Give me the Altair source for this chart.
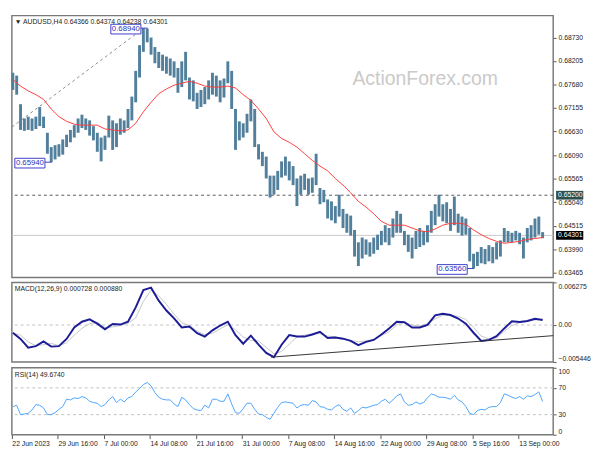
import altair as alt
import pandas as pd

W = 558
H_PRICE, H_MACD, H_RSI = 270, 82, 69
FONT = "Liberation Sans"

# ---------------- data ----------------
x_labels = ["22 Jun 2023", "29 Jun 16:00", "7 Jul 00:00", "14 Jul 08:00", "21 Jul 16:00",
            "31 Jul 00:00", "7 Aug 08:00", "14 Aug 16:00", "22 Aug 00:00", "29 Aug 08:00",
            "5 Sep 16:00", "13 Sep 00:00"]
x_label_pos = [-0.25, 11.75, 23.75, 35.75, 47.75, 59.75, 71.75, 83.75, 95.75, 107.75, 119.75, 131.75]

bar_high = [
    0.67941, 0.67877, 0.67238, 0.66918, 0.66960, 0.66918, 0.66960, 0.67174, 0.66960, 0.66598,
    0.66278, 0.66321, 0.66342, 0.66449, 0.66555, 0.66662, 0.66769, 0.66918, 0.67003, 0.66918,
    0.66875, 0.66747, 0.66598, 0.66491, 0.66534, 0.66982, 0.66875, 0.66811, 0.66918, 0.66875,
    0.67131, 0.67408, 0.67984, 0.68559, 0.68940, 0.68930, 0.68730, 0.68517, 0.68410, 0.68346,
    0.68304, 0.68261, 0.68197, 0.68048, 0.68197, 0.68410, 0.67835, 0.67771, 0.67493, 0.67557,
    0.67621, 0.67771, 0.67941, 0.67877, 0.67771, 0.67813, 0.68197, 0.67984, 0.67131, 0.66854,
    0.66811, 0.67024, 0.67344, 0.67131, 0.66342, 0.66172, 0.66065, 0.65639, 0.65639, 0.65745,
    0.65958, 0.66065, 0.65958, 0.65852, 0.65575, 0.65639, 0.65681, 0.65575, 0.65596, 0.66129,
    0.65362, 0.65319, 0.65106, 0.65063, 0.64957, 0.65212, 0.64893, 0.64786, 0.64744, 0.64423,
    0.64146, 0.64253, 0.64211, 0.64146, 0.64253, 0.64317, 0.64402, 0.64530, 0.64466, 0.64679,
    0.64850, 0.64786, 0.64402, 0.64317, 0.64253, 0.64402, 0.64466, 0.64402, 0.64530, 0.64850,
    0.64999, 0.65212, 0.64999, 0.65042, 0.64893, 0.65170, 0.64786, 0.64722, 0.64679, 0.64466,
    0.63890, 0.63933, 0.64040, 0.63997, 0.64082, 0.64040, 0.64146, 0.64189, 0.64466, 0.64402,
    0.64360, 0.64402, 0.64360, 0.64253, 0.64466, 0.64530, 0.64679, 0.64722, 0.64374]
bar_low = [
    0.67557, 0.67451, 0.66662, 0.66641, 0.66662, 0.66641, 0.66683, 0.66747, 0.66705, 0.66129,
    0.65940, 0.66001, 0.66065, 0.66108, 0.66278, 0.66385, 0.66491, 0.66598, 0.66705, 0.66662,
    0.66534, 0.66428, 0.66172, 0.65958, 0.66215, 0.66491, 0.66215, 0.66278, 0.66555, 0.66598,
    0.66705, 0.66875, 0.67280, 0.67835, 0.68410, 0.68623, 0.68346, 0.68154, 0.68048, 0.67984,
    0.67920, 0.67877, 0.67835, 0.67493, 0.67621, 0.67771, 0.67344, 0.67302, 0.67131, 0.67174,
    0.67238, 0.67344, 0.67451, 0.67408, 0.67280, 0.67387, 0.67707, 0.67131, 0.66215, 0.66428,
    0.66491, 0.66598, 0.66854, 0.66278, 0.66001, 0.65852, 0.65575, 0.65148, 0.65212, 0.65319,
    0.65596, 0.65639, 0.65532, 0.65426, 0.64957, 0.65212, 0.65319, 0.65212, 0.65255, 0.65426,
    0.64999, 0.65042, 0.64679, 0.64637, 0.64573, 0.64722, 0.64466, 0.64360, 0.64296, 0.63827,
    0.63614, 0.63784, 0.63869, 0.63827, 0.63890, 0.63976, 0.64082, 0.64146, 0.64082, 0.64253,
    0.64360, 0.64360, 0.64082, 0.63933, 0.63784, 0.63997, 0.64040, 0.64082, 0.64146, 0.64360,
    0.64530, 0.64722, 0.64615, 0.64573, 0.64402, 0.64530, 0.64360, 0.64296, 0.64317, 0.63720,
    0.63560, 0.63614, 0.63677, 0.63656, 0.63720, 0.63677, 0.63763, 0.63827, 0.64146, 0.64146,
    0.64146, 0.64189, 0.64104, 0.63784, 0.64146, 0.64189, 0.64253, 0.64317, 0.64238]

ma_values = [
    0.67792, 0.67643, 0.67536, 0.67451, 0.67344, 0.67131, 0.66960, 0.66854, 0.66790, 0.66769,
    0.66769, 0.66769, 0.66683, 0.66662, 0.66641, 0.66662, 0.66811, 0.67067, 0.67280, 0.67472,
    0.67579, 0.67664, 0.67707, 0.67749, 0.67707, 0.67643, 0.67621, 0.67621, 0.67643, 0.67600,
    0.67451, 0.67323, 0.67131, 0.66918, 0.66619, 0.66470, 0.66385, 0.66278, 0.66129, 0.65980,
    0.65852, 0.65745, 0.65575, 0.65426, 0.65255, 0.65063, 0.64935, 0.64786, 0.64615, 0.64530,
    0.64530, 0.64530, 0.64466, 0.64402, 0.64381, 0.64445, 0.64530, 0.64573, 0.64573, 0.64551,
    0.64423, 0.64317, 0.64232, 0.64168, 0.64125, 0.64146, 0.64168, 0.64211, 0.64232, 0.64253]

macd_main = [
    -0.001139, -0.002057, -0.003328, -0.003116, -0.002410, -0.003187, -0.003116, -0.002057, -0.000362, 0.000485,
    0.000838, 0.000203, -0.000645, 0.000160, 0.000061, 0.000485, 0.002603, 0.005145, 0.005498, 0.003592,
    0.002137, 0.000979, -0.000362, -0.000221, -0.001210, -0.001704, -0.000786, -0.000080, 0.000485, -0.001492,
    -0.002763, -0.001563, -0.002904, -0.004105, -0.004740, -0.002904, -0.001492, -0.001704, -0.001704, -0.001393,
    -0.000998, -0.001916, -0.001845, -0.002015, -0.002339, -0.002975, -0.002481, -0.002198, -0.001393, -0.000504,
    0.000485, 0.000414, -0.000362, -0.000362, 0.000019, 0.001431, 0.001643, 0.001474, 0.000951, 0.000203,
    -0.001139, -0.002339, -0.002198, -0.001633, -0.000504, 0.000556, 0.000443, 0.000598, 0.000909, 0.000728]
macd_signal = [
    -0.001210, -0.001492, -0.002481, -0.003046, -0.002904, -0.002692, -0.003046, -0.002622, -0.001492, -0.000504,
    0.000203, 0.000414, -0.000362, -0.000292, -0.000080, 0.000273, 0.001050, 0.003451, 0.005145, 0.004298,
    0.003027, 0.001615, 0.000344, -0.000080, -0.000927, -0.001421, -0.001210, -0.000574, 0.000019, -0.000715,
    -0.001775, -0.002269, -0.002339, -0.003286, -0.004246, -0.003893, -0.002834, -0.001775, -0.001492, -0.001280,
    -0.001280, -0.001633, -0.001746, -0.001986, -0.002269, -0.002481, -0.002339, -0.002128, -0.001563, -0.000998,
    0.000019, 0.000414, -0.000009, -0.000151, 0.000203, 0.000909, 0.001431, 0.001431, 0.001262, 0.000838,
    -0.000362, -0.001633, -0.002057, -0.001873, -0.000927, -0.000080, 0.000344, 0.000527, 0.000725, 0.000880]

rsi_values = [
    42, 44, 30, 31, 32, 37, 45, 44, 40, 30,
    30, 33, 38, 42, 53, 52, 55, 54, 57, 55,
    50, 48, 47, 42, 45, 52, 57, 48, 53, 49,
    55, 57, 64, 69, 75, 78, 73, 63, 56, 53,
    52, 52, 46, 42, 56, 52, 45, 39, 37, 36,
    44, 40, 53, 53, 50, 50, 61, 46, 33, 32,
    39, 47, 47, 38, 31, 30, 26, 23, 32, 41,
    48, 49, 48, 47, 40, 44, 45, 44, 51, 49,
    42, 41, 38, 37, 42, 45, 38, 35, 40, 32,
    36, 41, 40, 42, 44, 45, 50, 53, 47, 52,
    58, 61, 49, 44, 45, 49, 46, 48, 55, 61,
    59, 56, 56, 55, 53, 59, 52, 49, 42, 32,
    30, 36, 38, 37, 41, 42, 42, 48, 61, 59,
    56, 54, 57, 53, 58, 57, 60, 64, 49.674]

price_ticks = [0.68730, 0.68205, 0.67680, 0.67155, 0.66630, 0.66090, 0.65565,
               0.65040, 0.64515, 0.63990, 0.63465]
macd_ticks = [0.006275, 0.0, -0.005446]
rsi_ticks = [0, 30, 70, 100]

peak_labels = ["0.68940", "0.65940", "0.63560"]
peak_prices = [0.68940, 0.65940, 0.63560]
peak_idx = [35, 10, 120]

level_dashed = 0.65200
level_last = 0.64301
trend_idx = [-0.25, 32.5]
trend_price = [0.66726, 0.68837]
macd_trend_idx = [67.25, 140.75]
macd_trend_val = [-0.00474, -0.00157]

title_text = "\u25bc AUDUSD,H4  0.64366 0.64374 0.64238 0.64301"
macd_title = "MACD(12,26,9) 0.000728 0.000880"
rsi_title = "RSI(14) 49.6740"
watermark = "ActionForex.com"

# ---------------- frames ----------------
idx_all = list(range(len(bar_high)))
idx_half = list(range(0, len(bar_high), 2))
bars_df = pd.DataFrame({"idx": idx_all, "high": bar_high, "low": bar_low})
ma_df = pd.DataFrame({"idx": idx_half, "ma": ma_values})
macd_df = pd.DataFrame({"idx": idx_half, "main": macd_main, "signal": macd_signal})
rsi_df = pd.DataFrame({"idx": idx_all, "rsi": rsi_values})
ann_df = pd.DataFrame({"idx": peak_idx, "price": peak_prices, "label": peak_labels})
trend_df = pd.DataFrame({"idx": trend_idx, "price": trend_price})
mtrend_df = pd.DataFrame({"idx": macd_trend_idx, "val": macd_trend_val})
hl_df = pd.DataFrame({"price": [level_dashed, level_last],
                      "label": ["0.65200", "0.64301"],
                      "fill": ["#2f4f4f", "#000000"]})

xs = alt.Scale(domain=[-0.25, 140.75], nice=False, zero=False)
X0 = alt.X("idx:Q", scale=xs, axis=None)

py = alt.Scale(domain=[0.63357, 0.69220], nice=False, zero=False)
price_axis = alt.Axis(orient="right", values=price_ticks, format=".5f", title=None,
                      grid=False, domain=False, tickSize=3, tickColor="#555",
                      labelPadding=2, labelFontSize=7, labelFont=FONT, labelColor="#222")


def PY(field):
    return alt.Y(field, scale=py, axis=price_axis)


def text_layer(txt, x, y, size=7, color="#222", align="left", baseline="middle"):
    return alt.Chart(pd.DataFrame({"t": [txt]})).mark_text(
        align=align, baseline=baseline, fontSize=size, font=FONT, color=color
    ).encode(x=alt.value(x), y=alt.value(y), text="t:N")


bars = alt.Chart(bars_df).mark_rule(strokeWidth=3, color="#52809c").encode(
    x=X0, y=PY("low:Q"), y2="high:Q")
ma_line = alt.Chart(ma_df).mark_line(color="#ff3b3b", strokeWidth=1).encode(x=X0, y=PY("ma:Q"))
dash_level = alt.Chart(pd.DataFrame({"price": [level_dashed]})).mark_rule(
    color="#555", strokeDash=[3, 3], strokeWidth=1).encode(y=PY("price:Q"))
last_level = alt.Chart(pd.DataFrame({"price": [level_last]})).mark_rule(
    color="#c8c8c8", strokeWidth=1).encode(y=PY("price:Q"))
trend = alt.Chart(trend_df).mark_line(color="#8a8a8a", strokeDash=[3, 3], strokeWidth=1).encode(
    x=X0, y=PY("price:Q"))
conn = alt.Chart(ann_df).mark_rect(width=7, height=1, xOffset=-3, color="#3c3cc8").encode(
    x=X0, y=PY("price:Q"))
box = alt.Chart(ann_df).mark_rect(width=31, height=10, xOffset=-22, yOffset=1, fill="white",
                                  stroke="#3c3cc8", strokeWidth=1).encode(x=X0, y=PY("price:Q"))
box_text = alt.Chart(ann_df).mark_text(xOffset=-22, yOffset=1, fontSize=8, font=FONT,
                                       color="#3030c0").encode(x=X0, y=PY("price:Q"), text="label:N")
hl_box = alt.Chart(hl_df).mark_rect(height=9).encode(
    x=alt.value(W + 3), x2=alt.value(W + 31), y=PY("price:Q"),
    color=alt.Color("fill:N", scale=None))
hl_text = alt.Chart(hl_df).mark_text(align="left", baseline="middle", fontSize=7, font=FONT,
                                     color="white").encode(
    x=alt.value(W + 5), y=PY("price:Q"), text="label:N")

price = alt.layer(
    text_layer(watermark, 426, 65, size=20, color="#cacaca", align="center"),
    last_level, dash_level, trend, bars, ma_line, conn, box, box_text, hl_box, hl_text,
    text_layer(title_text, 3, 7),
).properties(width=W, height=H_PRICE)

# MACD
my = alt.Scale(domain=[-0.005446, 0.006275], nice=False, zero=False)
macd_axis = alt.Axis(orient="right", values=macd_ticks,
                     labelExpr="datum.value == 0 ? '0.00' : format(datum.value, '.6f')",
                     labelFlush=True, title=None, grid=False, domain=False, tickSize=3,
                     tickColor="#555", labelPadding=2, labelFontSize=7, labelFont=FONT,
                     labelColor="#222")


def MY(field):
    return alt.Y(field, scale=my, axis=macd_axis)


zero_rule = alt.Chart(pd.DataFrame({"v": [0.0]})).mark_rule(
    color="#c0c0c0", strokeDash=[3, 3], strokeWidth=1).encode(y=MY("v:Q"))
sig_line = alt.Chart(macd_df).mark_line(color="#c6c6c6", strokeWidth=1).encode(x=X0, y=MY("signal:Q"))
main_line = alt.Chart(macd_df).mark_line(color="#1c1c96", strokeWidth=2).encode(x=X0, y=MY("main:Q"))
mtrend = alt.Chart(mtrend_df).mark_line(color="#333", strokeWidth=1).encode(x=X0, y=MY("val:Q"))
macd = alt.layer(zero_rule, sig_line, main_line, mtrend, text_layer(macd_title, 3, 7)).properties(
    width=W, height=H_MACD)

# RSI
ry = alt.Scale(domain=[0, 100], nice=False, zero=False)
rsi_axis = alt.Axis(orient="right", values=rsi_ticks, labelFlush=True, title=None, grid=False,
                    domain=False, tickSize=3, tickColor="#555", labelPadding=2, labelFontSize=7,
                    labelFont=FONT, labelColor="#222")
label_arr = "[" + ",".join("'" + s + "'" for s in x_labels) + "]"
x_axis = alt.Axis(values=x_label_pos, labelExpr=label_arr + "[round((datum.value + 0.25) / 12)]",
                  labelAlign="left", labelFontSize=7, labelFont=FONT, labelColor="#222",
                  tickSize=4, tickColor="#555", domain=False, grid=False, title=None,
                  labelPadding=1, labelFlush=False, labelOverlap=False)
XR = alt.X("idx:Q", scale=xs, axis=x_axis)
lvl = alt.Chart(pd.DataFrame({"v": [30, 70]})).mark_rule(
    color="#c0c0c0", strokeDash=[3, 3], strokeWidth=1).encode(y=alt.Y("v:Q", scale=ry, axis=rsi_axis))
rsi_line = alt.Chart(rsi_df).mark_line(color="#4aa3ff", strokeWidth=1).encode(
    x=XR, y=alt.Y("rsi:Q", scale=ry, axis=rsi_axis))
rsi = alt.layer(lvl, rsi_line, text_layer(rsi_title, 3, 7)).properties(width=W, height=H_RSI)

chart = alt.vconcat(price, macd, rsi, spacing=2).resolve_scale(y="independent").properties(
    padding=0, background="white"
).configure_view(stroke="#7a7a7a", strokeWidth=1.5)

chart.save("out.html", embed_options={"renderer": "svg", "actions": False})
